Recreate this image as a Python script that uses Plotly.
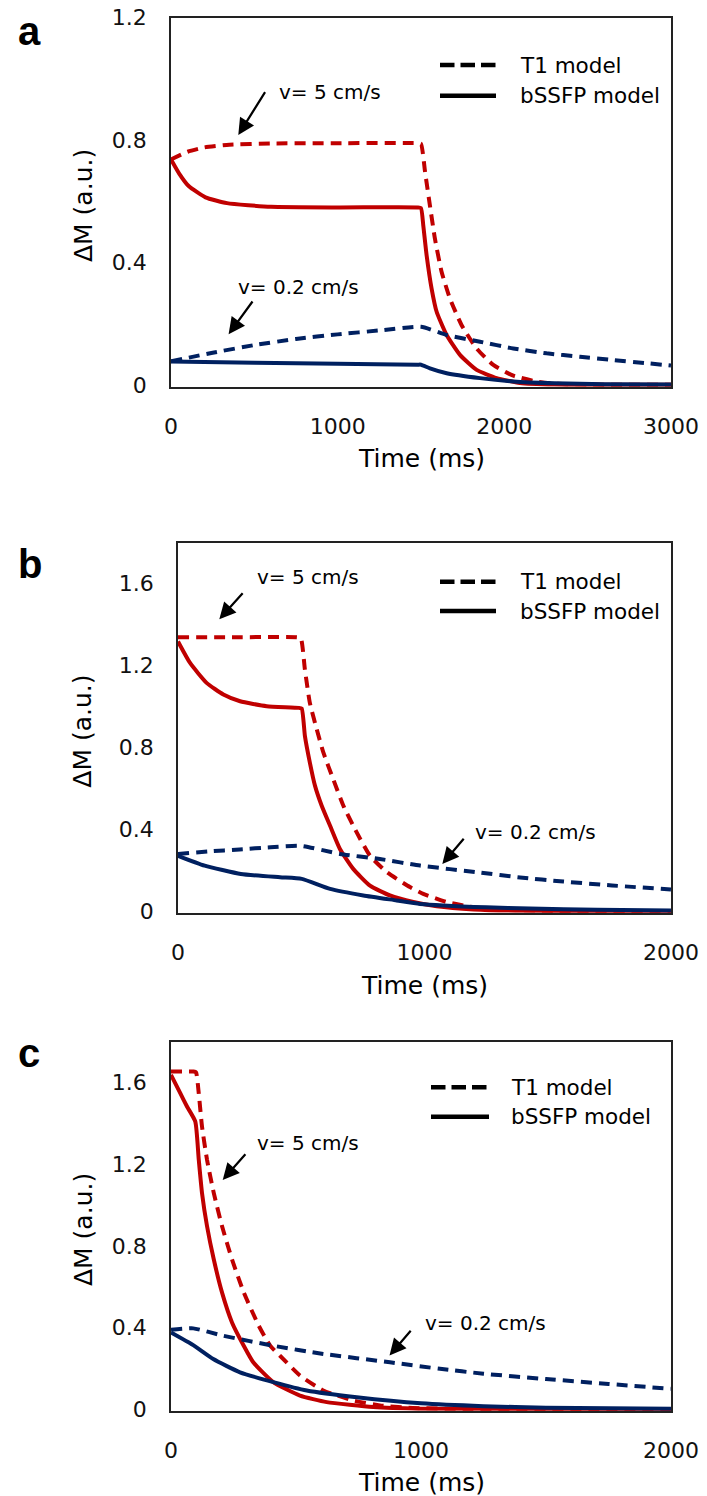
import plotly.graph_objects as go

# page is 707x1496; the html body has an 8px default margin, so the figure is 699x1488
OFF = 8
W, H = 707 - OFF, 1496 - OFF

# ---------------- data ----------------
# Panel a (x 0-3000 ms)
a_t1_fast_t = [0, 100, 200, 350, 600, 1000, 1480, 1500, 1525, 1554, 1584, 1624, 1674, 1744, 1834, 1934, 2054, 2194, 2300, 2500, 3000]
a_t1_fast_v = [0.737, 0.762, 0.776, 0.785, 0.789, 0.790, 0.790, 0.788, 0.694, 0.585, 0.477, 0.369, 0.282, 0.195, 0.119, 0.065, 0.030, 0.011, 0.004, 0.001, 0.0]
a_ss_fast_t = [0, 50, 106, 207, 336, 600, 1000, 1480, 1500, 1514, 1534, 1564, 1594, 1654, 1734, 1834, 1954, 2094, 2300, 3000]
a_ss_fast_v = [0.737, 0.690, 0.650, 0.613, 0.594, 0.582, 0.580, 0.580, 0.578, 0.520, 0.423, 0.314, 0.239, 0.163, 0.098, 0.049, 0.022, 0.006, 0.001, 0.0]
a_t1_slow_t = [0, 250, 500, 750, 1000, 1254, 1500, 1654, 1854, 2054, 2254, 2454, 2654, 2850, 3000]
a_t1_slow_v = [0.077, 0.105, 0.130, 0.150, 0.165, 0.178, 0.190, 0.163, 0.141, 0.119, 0.103, 0.092, 0.081, 0.071, 0.063]
a_ss_slow_t = [0, 500, 1000, 1480, 1500, 1554, 1654, 1854, 2054, 2300, 2600, 3000]
a_ss_slow_v = [0.076, 0.072, 0.069, 0.066, 0.066, 0.054, 0.038, 0.022, 0.011, 0.005, 0.002, 0.001]

# Panel b (x 0-2000 ms)
b_t1_fast_t = [0, 250, 480, 498, 515, 535, 563, 590, 630, 671, 725, 779, 847, 941, 995, 1090, 1198, 1300, 1500, 2000]
b_t1_fast_v = [1.339, 1.339, 1.339, 1.335, 1.180, 1.018, 0.889, 0.775, 0.645, 0.516, 0.386, 0.272, 0.192, 0.119, 0.086, 0.046, 0.021, 0.010, 0.003, 0.0]
b_ss_fast_t = [0, 49, 116, 184, 252, 360, 490, 502, 515, 535, 556, 583, 617, 657, 711, 779, 860, 955, 1050, 1200, 1400, 2000]
b_ss_fast_v = [1.318, 1.213, 1.116, 1.059, 1.026, 1.002, 0.994, 0.990, 0.856, 0.727, 0.613, 0.516, 0.418, 0.305, 0.208, 0.126, 0.078, 0.046, 0.025, 0.010, 0.003, 0.0]
b_t1_slow_t = [0, 125, 250, 375, 500, 657, 819, 982, 1225, 1388, 1564, 1761, 2000]
b_t1_slow_v = [0.281, 0.293, 0.303, 0.313, 0.320, 0.281, 0.256, 0.224, 0.190, 0.166, 0.146, 0.127, 0.107]
b_ss_slow_t = [0, 108, 255, 414, 502, 617, 752, 887, 982, 1250, 1428, 1700, 2000]
b_ss_slow_v = [0.272, 0.224, 0.183, 0.167, 0.159, 0.110, 0.078, 0.054, 0.037, 0.020, 0.014, 0.008, 0.005]

# Panel c (x 0-2000 ms)
c_t1_fast_t = [0, 50, 90, 100, 111, 124, 144, 171, 204, 244, 291, 351, 397, 436, 516, 609, 729, 836, 950, 1200, 2000]
c_t1_fast_v = [1.654, 1.654, 1.654, 1.650, 1.548, 1.385, 1.223, 1.060, 0.898, 0.735, 0.573, 0.410, 0.312, 0.263, 0.166, 0.093, 0.044, 0.020, 0.008, 0.002, 0.0]
c_ss_fast_t = [0, 37, 64, 97, 111, 124, 144, 171, 204, 244, 291, 329, 409, 516, 623, 809, 1000, 2000]
c_ss_fast_v = [1.638, 1.548, 1.483, 1.410, 1.223, 1.060, 0.898, 0.735, 0.573, 0.426, 0.312, 0.231, 0.134, 0.068, 0.036, 0.012, 0.004, 0.0]
c_t1_slow_t = [0, 89, 209, 409, 609, 876, 1076, 1250, 1500, 1750, 2000]
c_t1_slow_v = [0.390, 0.397, 0.361, 0.312, 0.272, 0.231, 0.199, 0.175, 0.149, 0.125, 0.101]
c_ss_slow_t = [0, 89, 169, 276, 409, 543, 743, 1000, 1250, 1500, 2000]
c_ss_slow_v = [0.377, 0.315, 0.247, 0.182, 0.134, 0.093, 0.060, 0.030, 0.016, 0.009, 0.004]

x_ticks_a = [0, 1000, 2000, 3000]
x_ticks_bc = [0, 1000, 2000]
y_ticks_a = [0, 0.4, 0.8, 1.2]
y_ticks_bc = [0, 0.4, 0.8, 1.2, 1.6]

panel_letters = ["a", "b", "c"]
legend_labels = ["T1 model", "bSSFP model"]
label_fast = "v= 5 cm/s"
label_slow = "v= 0.2 cm/s"
x_title = "Time (ms)"
y_title = "ΔM (a.u.)"

RED = "#C00000"
NAVY = "#002060"
FONT = "DejaVu Sans"
DASH = "11px,7px"
LW = 4

# ---------------- layout geometry (page pixels) ----------------
def px(x):
    return (x - OFF) / W

def py(y):
    return 1 - (y - OFF) / H

boxes = {
    # left, right, top, bottom
    "a": (171, 671, 17.7, 386.7),
    "b": (178, 671, 542.7, 912.7),
    "c": (171, 671, 1041.7, 1410.7),
}

fig = go.Figure()

panels = [
    ("a", "x", "y", [(a_t1_fast_t, a_t1_fast_v, RED, DASH), (a_ss_fast_t, a_ss_fast_v, RED, "solid"),
                     (a_t1_slow_t, a_t1_slow_v, NAVY, DASH), (a_ss_slow_t, a_ss_slow_v, NAVY, "solid")]),
    ("b", "x2", "y2", [(b_t1_fast_t, b_t1_fast_v, RED, DASH), (b_ss_fast_t, b_ss_fast_v, RED, "solid"),
                       (b_t1_slow_t, b_t1_slow_v, NAVY, DASH), (b_ss_slow_t, b_ss_slow_v, NAVY, "solid")]),
    ("c", "x3", "y3", [(c_t1_fast_t, c_t1_fast_v, RED, DASH), (c_ss_fast_t, c_ss_fast_v, RED, "solid"),
                       (c_t1_slow_t, c_t1_slow_v, NAVY, DASH), (c_ss_slow_t, c_ss_slow_v, NAVY, "solid")]),
]

for key, xa, ya, series in panels:
    for t, v, col, dash in series:
        fig.add_trace(go.Scatter(x=t, y=v, xaxis=xa, yaxis=ya, mode="lines",
                                 line=dict(color=col, width=LW, dash=dash, shape="spline", smoothing=0.5),
                                 showlegend=False, hoverinfo="skip"))

axis_common = dict(showline=True, mirror=True, linecolor="#222", linewidth=1.5,
                   showgrid=False, zeroline=False, ticks="", automargin=False,
                   ticklabeloverflow="allow",
                   tickfont=dict(family=FONT, size=22, color="#111"))

layout_axes = {}
for i, key in enumerate(["a", "b", "c"]):
    l, r, t, b = boxes[key]
    sfx = "" if i == 0 else str(i + 1)
    xt = x_ticks_a if key == "a" else x_ticks_bc
    yt = y_ticks_a if key == "a" else y_ticks_bc
    xmax = 3000 if key == "a" else 2000
    ymax = 1.2 if key == "a" else 1.8
    layout_axes["xaxis" + sfx] = dict(axis_common, domain=[px(l), px(r)], range=[0, xmax * 1.0001],
                                      tickvals=xt, ticktext=[str(v) for v in xt],
                                      anchor="y" + sfx, ticklabelstandoff=19)
    layout_axes["yaxis" + sfx] = dict(axis_common, domain=[py(b), py(t)], range=[-0.006, ymax * 1.0001],
                                      tickvals=yt, ticktext=[("0" if v == 0 else f"{v:.1f}") for v in yt],
                                      anchor="x" + sfx, ticklabelstandoff=18)

annotations = []
shapes = []

# panel letters, axis titles
letter_pos = {"a": (16, 31), "b": (16, 564), "c": (16, 1053)}
ytitle_y = {"a": 206, "b": 731.7, "c": 1230}
xtitle_y = {"a": 458, "b": 985, "c": 1482}
for key in ["a", "b", "c"]:
    l, r, t, b = boxes[key]
    lx, ly = letter_pos[key]
    annotations.append(dict(text=f"<b>{key}</b>", x=px(lx), y=py(ly), xref="paper", yref="paper",
                            xanchor="left", yanchor="middle", showarrow=False,
                            font=dict(family="Liberation Sans", size=40, color="black")))
    annotations.append(dict(text=y_title, x=px(83), y=py(ytitle_y[key]), xref="paper", yref="paper",
                            xanchor="center", yanchor="middle", textangle=-90, showarrow=False,
                            font=dict(family=FONT, size=25, color="black")))
    annotations.append(dict(text=x_title, x=px((l + r) / 2), y=py(xtitle_y[key]), xref="paper", yref="paper",
                            xanchor="center", yanchor="middle", showarrow=False,
                            font=dict(family=FONT, size=25, color="black")))

# legends (drawn as shapes + text)
legend_geo = {"a": (440, 496, 518, 65, 95.7), "b": (440, 496, 518, 581.7, 611), "c": (431, 489, 509, 1087.3, 1116.7)}
for key, (x0, x1, tx, y1, y2) in legend_geo.items():
    shapes.append(dict(type="line", xref="paper", yref="paper", x0=px(x0), x1=px(x1), y0=py(y1), y1=py(y1),
                       line=dict(color="black", width=4.5, dash="14.5px,6px")))
    shapes.append(dict(type="line", xref="paper", yref="paper", x0=px(x0), x1=px(x1), y0=py(y2), y1=py(y2),
                       line=dict(color="black", width=4.5)))
    for lab, yy in zip(legend_labels, [y1, y2]):
        annotations.append(dict(text=lab, x=px(tx), y=py(yy), xref="paper", yref="paper",
                                xanchor="left", yanchor="middle", showarrow=False,
                                font=dict(family=FONT, size=21.5, color="black")))

# velocity labels with arrows: (text, text_left, text_cy, tail_x, tail_y, head_x, head_y)
vel_labels = [
    (label_fast, 276.7, 91.5, 266, 90.7, 238.3, 135),
    (label_slow, 236, 286.7, 253.6, 300, 228.6, 334.3),
    (label_fast, 255, 577.3, 244, 591.7, 219.3, 619.3),
    (label_slow, 472.7, 831.7, 465, 837.3, 442.3, 864),
    (label_fast, 255, 1142.7, 246.7, 1152.7, 222.7, 1180),
    (label_slow, 422.7, 1323.3, 412, 1329.3, 389.5, 1355.5),
]
for txt, tx, ty, ax0, ay0, hx, hy in vel_labels:
    annotations.append(dict(text=txt, x=px(tx), y=py(ty), xref="paper", yref="paper",
                            xanchor="left", yanchor="middle", showarrow=False,
                            font=dict(family=FONT, size=20, color="black")))
    annotations.append(dict(text="", x=px(hx), y=py(hy), xref="paper", yref="paper",
                            ax=ax0 - hx, ay=ay0 - hy, axref="pixel", ayref="pixel",
                            showarrow=True, arrowhead=2, arrowsize=1.5, arrowwidth=2.2,
                            arrowcolor="black", standoff=0))

fig.update_layout(width=W, height=H, margin=dict(l=0, r=0, t=0, b=0, autoexpand=False),
                  paper_bgcolor="white", plot_bgcolor="white", showlegend=False,
                  annotations=annotations, shapes=shapes, **layout_axes)

fig.write_html("out.html")
